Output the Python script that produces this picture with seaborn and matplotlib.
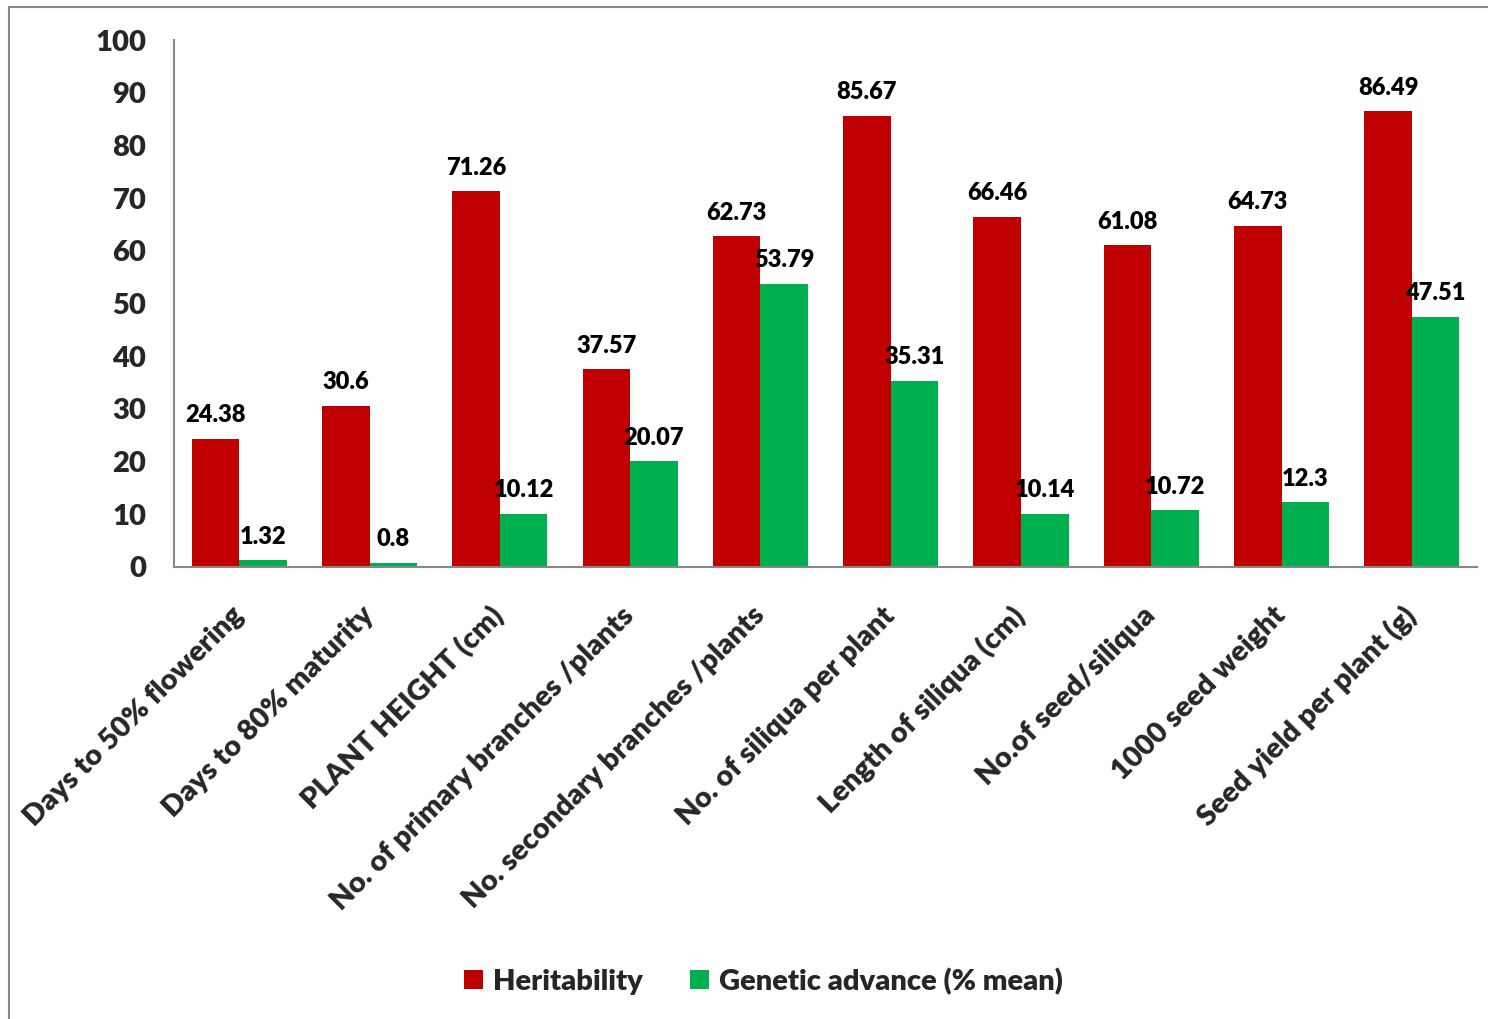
import matplotlib
matplotlib.use("Agg")
import matplotlib.pyplot as plt
from matplotlib.patches import Rectangle
import seaborn as sns
import pandas as pd

traits = [
    "Days to 50% flowering",
    "Days to 80% maturity",
    "PLANT HEIGHT (cm)",
    "No. of primary branches /plants",
    "No. secondary branches /plants",
    "No. of siliqua per plant",
    "Length of siliqua (cm)",
    "No.of seed/siliqua",
    "1000 seed weight",
    "Seed yield per plant (g)",
]
heritability = [24.38, 30.6, 71.26, 37.57, 62.73, 85.67, 66.46, 61.08, 64.73, 86.49]
genetic_advance = [1.32, 0.8, 10.12, 20.07, 53.79, 35.31, 10.14, 10.72, 12.3, 47.51]
series_names = ["Heritability", "Genetic advance (% mean)"]
y_ticks = [0, 10, 20, 30, 40, 50, 60, 70, 80, 90, 100]

df = pd.DataFrame({
    "trait": traits * 2,
    "value": heritability + genetic_advance,
    "series": [series_names[0]] * len(traits) + [series_names[1]] * len(traits),
})

sns.set_theme(style="white")
plt.rcParams["font.family"] = ["Lato", "DejaVu Sans"]
W = "heavy"
plt.rcParams["font.weight"] = W

fig = plt.figure(figsize=(14.88, 10.19), dpi=100)
ax = fig.add_axes([0.117, 0.4436, 0.8756, 0.5171])

palette = {series_names[0]: "#C00000", series_names[1]: "#00B050"}
sns.barplot(data=df, x="trait", y="value", hue="series", palette=palette,
            width=0.73, ax=ax, saturation=1, errorbar=None, legend=True,
            linewidth=0)

for container in ax.containers:
    ax.bar_label(container, labels=[f"{v:g}" for v in container.datavalues],
                 padding=9, fontsize=17, fontweight=W, color="black")

ax.set_ylim(0, 100)
ax.set_yticks(y_ticks)
ax.set_yticklabels([str(t) for t in y_ticks], fontsize=21, fontweight=W)
ax.set_xlim(-0.5, len(traits) - 0.5)
ax.set_xlabel("")
ax.set_ylabel("")
ax.tick_params(axis="y", length=0, pad=20)
ax.tick_params(axis="x", length=0, pad=32)
ax.set_xticks(range(len(traits)))
ax.set_xticklabels(traits, rotation=45, ha="right", rotation_mode="anchor",
                   fontsize=21, fontweight=W)
for lbl in ax.get_xticklabels():
    lbl.set_va("center")

for side in ["top", "right"]:
    ax.spines[side].set_visible(False)
for side in ["left", "bottom"]:
    ax.spines[side].set_color("#878787")
    ax.spines[side].set_linewidth(1.5)

handles, labels = ax.get_legend_handles_labels()
ax.get_legend().remove()
fig.legend(handles, labels, loc="center", bbox_to_anchor=(0.513, 0.037), ncol=2,
           frameon=False, handlelength=0.65, handleheight=0.65,
           columnspacing=1.6, handletextpad=0.35,
           prop={"weight": W, "size": 21})

fig.patches.append(Rectangle((9 / 1488, -0.1), 1.2, 1 - 7 / 1019 + 0.1,
                             transform=fig.transFigure, fill=False,
                             edgecolor="#878787", linewidth=1.5))

fig.savefig("out.png", dpi=100)
